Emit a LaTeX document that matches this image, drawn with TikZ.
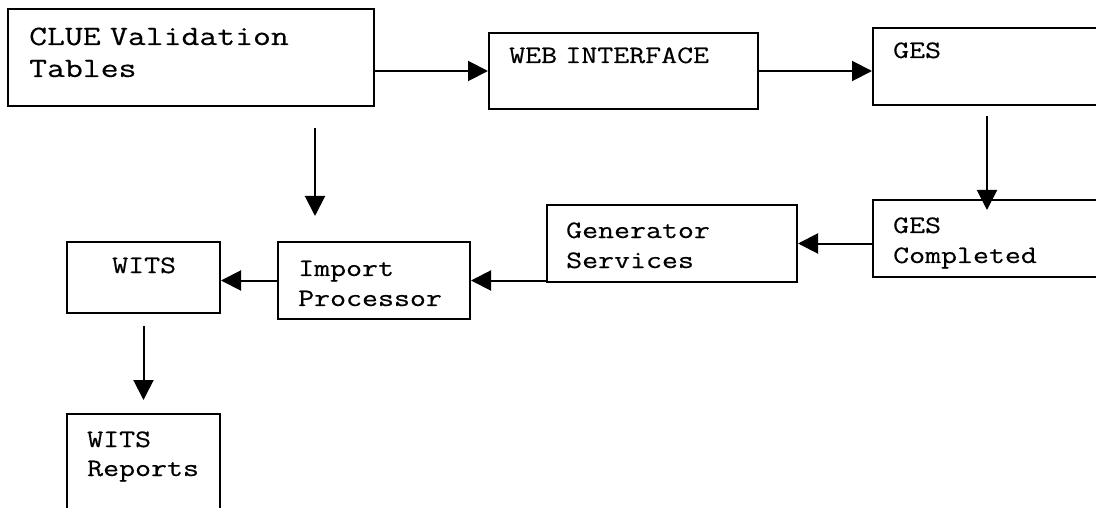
\documentclass[tikz,border=0pt]{standalone}
\usepackage{fontspec}
\setmonofont[FakeStretch=1.24,FakeBold=0.4]{Latin Modern Mono}
\usepackage{tikz}
\usetikzlibrary{calc,arrows.meta}
\newcommand{\boxfont}[2]{\ttfamily\fontsize{#1}{#2}\selectfont\spaceskip=0.651em\xspaceskip=0.651em\relax}

\begin{document}
\begin{tikzpicture}[x=1pt,y=-1pt,
  blk/.style={draw,line width=2pt,inner sep=0pt,anchor=north west},
  lbl/.style={anchor=base west,inner sep=0pt,align=left,text width=#1,
    font=\boxfont{25}{30}},
  lbl/.default=260pt,
  arr/.style={line width=2pt,-{Triangle[length=20pt,width=20pt]}}]
\useasboundingbox (0,0) rectangle (1096,508);
\clip (0,0) rectangle (1096,508);
\fill[white] (0,0) rectangle (1096,508);
\node[blk,minimum width=366pt,minimum height=97pt] (clue) at (7,8) {};
\node[blk,minimum width=269pt,minimum height=76pt] (web) at (488,32) {};
\node[blk,minimum width=300pt,minimum height=77pt] (ges) at (872,27) {};
\node[blk,minimum width=300pt,minimum height=77pt] (gesc) at (872,199) {};
\node[blk,minimum width=250pt,minimum height=77pt] (gen) at (546,204) {};
\node[blk,minimum width=192pt,minimum height=77pt] (imp) at (277,241) {};
\node[blk,minimum width=153pt,minimum height=71pt] (wits) at (66,241) {};
\node[blk,minimum width=153pt,minimum height=150pt] (witsr) at (66,413) {};
\node[lbl=340pt,font=\boxfont{28}{32}] (clueT) at (29,45) {CLUE Validation\\Tables};
\node[lbl] (webT) at (509,63) {WEB INTERFACE};
\node[lbl] (gesT) at (893,58) {GES};
\node[lbl] (gescT) at (893,233) {GES\\Completed};
\node[lbl] (genT) at (566,238) {Generator\\Services};
\node[lbl] (impT) at (298,276) {Import\\Processor};
\node[lbl] (witsT) at (112,273) {WITS};
\node[lbl,font=\boxfont{25}{29}] (witsrT) at (87,447) {WITS\\Reports};
\coordinate (feedtop) at (315,128);
\coordinate (feedend) at (315,216);
\draw[arr] (clue.east |- web.west) -- (web.west);
\draw[arr] (web.east) -- (ges.west |- web.east);
\draw[arr] ($(ges.south west)+(115,10)$) -- ($(gesc.north west)+(115,11)$);
\draw[arr] (gesc.west |- gen.east) -- (gen.east);
\draw[arr] (gen.west |- imp.east) -- (imp.east);
\draw[arr] (imp.west) -- (wits.east |- imp.west);
\draw[arr] (feedtop) -- (feedend);
\draw[arr] ($(wits.south)+(0,12)$) -- ($(witsr.north)+(0,-13)$);
\end{tikzpicture}
\end{document}
